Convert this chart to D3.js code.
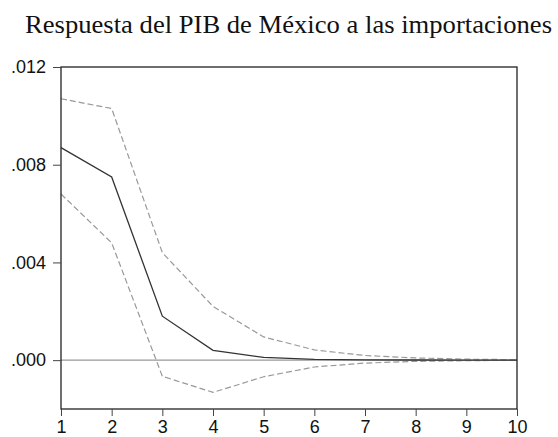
<!DOCTYPE html>
<html><head><meta charset="utf-8">
<script src="https://cdn.jsdelivr.net/npm/d3@7"></script>
<style>body{margin:0;background:#fff}</style>
</head><body>
<svg id="c" width="558" height="437"></svg>
<script>
const periods = [1,2,3,4,5,6,7,8,9,10];
const response = [0.0087,0.0075,0.0018,0.0004,0.00011,0.00003,0.00001,0.000005,0.000002,0.000001];
const upper = [0.0107,0.0103,0.0044,0.0022,0.00095,0.00042,0.00019,0.00009,0.00004,0.00002];
const lower = [0.0068,0.0048,-0.00066,-0.00132,-0.00068,-0.00028,-0.00012,-0.00005,-0.00002,-0.00001];
const yTicks = [0.000,0.004,0.008,0.012];
const title = "Respuesta del PIB de México a las importaciones";

const svg = d3.select("#c");
const L=61,R=517,T=67,B=409;
const x = d3.scaleLinear().domain([1,10]).range([L,R]);
const y = d3.scaleLinear().domain([-0.002,0.012]).range([B,T]);

svg.append("text").attr("x",25).attr("y",33).attr("text-anchor","start")
  .attr("font-family","Liberation Serif, Times New Roman, serif").attr("font-size",26)
  .attr("textLength",527).attr("lengthAdjust","spacingAndGlyphs")
  .attr("fill","#111").text(title);

// zero line
svg.append("line").attr("x1",L).attr("x2",R).attr("y1",y(0)).attr("y2",y(0))
  .attr("stroke","#999").attr("stroke-width",1.2);

const line = d3.line().x((d,i)=>x(periods[i])).y(d=>y(d));
svg.append("path").datum(upper).attr("d",line).attr("fill","none")
  .attr("stroke","#999").attr("stroke-width",1.2).attr("stroke-dasharray","6,3");
svg.append("path").datum(lower).attr("d",line).attr("fill","none")
  .attr("stroke","#999").attr("stroke-width",1.2).attr("stroke-dasharray","6,3");
svg.append("path").datum(response).attr("d",line).attr("fill","none")
  .attr("stroke","#333").attr("stroke-width",1.3);

// frame
svg.append("rect").attr("x",L).attr("y",T).attr("width",R-L).attr("height",B-T)
  .attr("fill","none").attr("stroke","#222").attr("stroke-width",1.3);

const fmt = v => d3.format(".3f")(v).replace(/^0/,"").replace(/^-0/,"-");
const ya = svg.append("g").attr("transform",`translate(${L},0)`)
  .call(d3.axisLeft(y).tickValues(yTicks).tickFormat(fmt).tickSize(8).tickPadding(7));
const xa = svg.append("g").attr("transform",`translate(0,${B})`)
  .call(d3.axisBottom(x).tickValues(periods).tickFormat(d3.format("d")).tickSize(7).tickPadding(4));
[ya,xa].forEach(a=>{
  a.select(".domain").remove();
  a.selectAll(".tick line").attr("stroke","#444");
  a.selectAll(".tick text").attr("font-family","Liberation Sans, Arial, sans-serif")
    .attr("font-size",18).attr("fill","#111");
});
</script>
</body></html>
